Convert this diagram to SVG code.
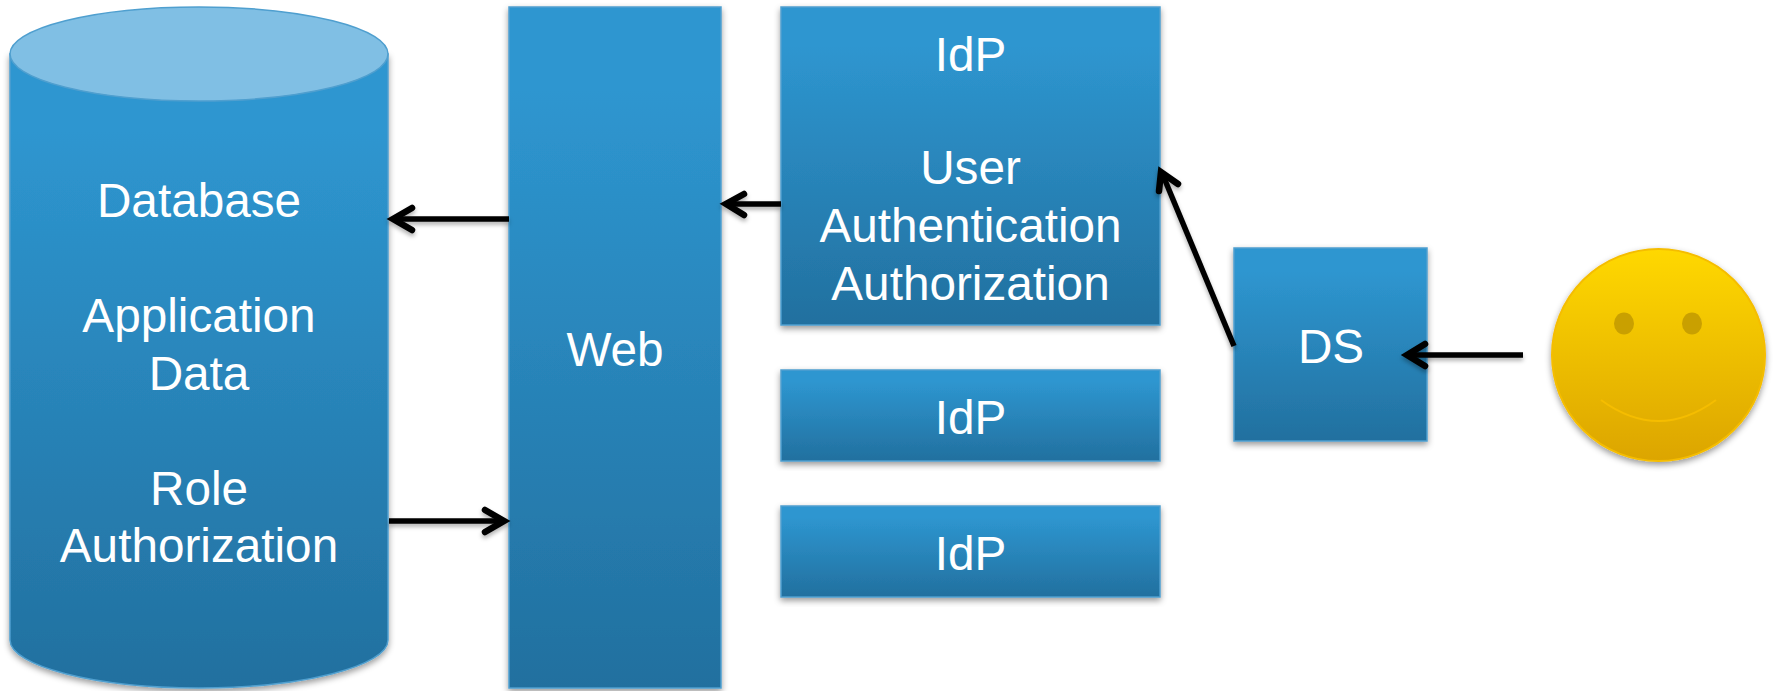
<svg xmlns="http://www.w3.org/2000/svg" width="1775" height="691" viewBox="0 0 1775 691">
<style>
text{font-family:"Liberation Sans",Arial,sans-serif;font-size:47.7px;fill:#fff;text-anchor:middle}
.box{stroke:#4f9fcf;stroke-width:1.5}
.c{fill:none;stroke:#000;stroke-width:5.5}
.h{fill:none;stroke:#000;stroke-width:6.5;stroke-linecap:round;stroke-linejoin:miter}
</style>
<defs>
<linearGradient id="b" x1="0" y1="0" x2="0" y2="1"><stop offset="0.12" stop-color="#2e96d0"/><stop offset="1" stop-color="#22709f"/></linearGradient>
<linearGradient id="y" x1="0" y1="0" x2="0" y2="1"><stop offset="0" stop-color="#ffd800"/><stop offset="1" stop-color="#dca500"/></linearGradient>
<filter id="s" x="-10%" y="-10%" width="120%" height="120%"><feDropShadow dx="0" dy="3" stdDeviation="3" flood-color="#000" flood-opacity="0.4"/></filter>
<filter id="ls" x="0" y="0" width="1775" height="691" filterUnits="userSpaceOnUse"><feDropShadow dx="0" dy="3" stdDeviation="2" flood-color="#000" flood-opacity="0.3"/></filter>
</defs>
<rect width="1775" height="691" fill="#fff"/>
<g id="database">
<path class="box" filter="url(#s)" fill="url(#b)" d="M10 54V640C10 666 95 688 199 688S388 666 388 640V54Z"/>
<ellipse cx="199" cy="54" rx="189" ry="47" fill="#80bfe4" stroke="#4f9fcf" stroke-width="1.500"/>
<text x="199" y="217">Database</text>
<text x="199" y="332">Application</text>
<text x="199" y="390">Data</text>
<text x="199" y="505">Role</text>
<text x="199" y="562">Authorization</text>
</g>
<g id="web">
<rect class="box" filter="url(#s)" x="509" y="7" width="212" height="681" fill="url(#b)"/>
<text x="615" y="366">Web</text>
</g>
<g id="idp1">
<rect class="box" filter="url(#s)" x="781" y="7" width="379" height="318" fill="url(#b)"/>
<text x="970.500" y="71">IdP</text>
<text x="970.500" y="184">User</text>
<text x="970.500" y="242">Authentication</text>
<text x="970.500" y="300">Authorization</text>
</g>
<g id="idp2">
<rect class="box" filter="url(#s)" x="781" y="370" width="379" height="91" fill="url(#b)"/>
<text x="970.500" y="434">IdP</text>
</g>
<g id="idp3">
<rect class="box" filter="url(#s)" x="781" y="506" width="379" height="91" fill="url(#b)"/>
<text x="970.500" y="570">IdP</text>
</g>
<g id="ds">
<rect class="box" filter="url(#s)" x="1234" y="248" width="193" height="193" fill="url(#b)"/>
<text x="1331" y="363">DS</text>
</g>
<g id="smiley">
<ellipse cx="1658.500" cy="355" rx="106.500" ry="106" fill="url(#y)" stroke="#f5bd00" stroke-width="2" filter="url(#s)"/>
<ellipse cx="1624" cy="323.500" rx="10" ry="11" fill="#c9a000"/>
<ellipse cx="1692" cy="323.500" rx="10" ry="11" fill="#c9a000"/>
<path d="M1601 400Q1658.500 442 1716 400" fill="none" stroke="#f5bd00" stroke-width="2"/>
</g>
<g id="connectors" filter="url(#ls)">
<path class="c" d="M509 219H394"/><path class="h" d="M412 208L393 219L412 230"/>
<path class="c" d="M389 521H503"/><path class="h" d="M485 510L504 521L485 532"/>
<path class="c" d="M781 204H728"/><path class="h" d="M744 194L726 204L744 215"/>
<path class="c" d="M1234 346L1162 173"/><path class="h" d="M1159 191L1161 172L1178 184"/>
<path class="c" d="M1523 355H1410"/><path class="h" d="M1425 344L1407 355L1425 366"/>
</g>
</svg>
